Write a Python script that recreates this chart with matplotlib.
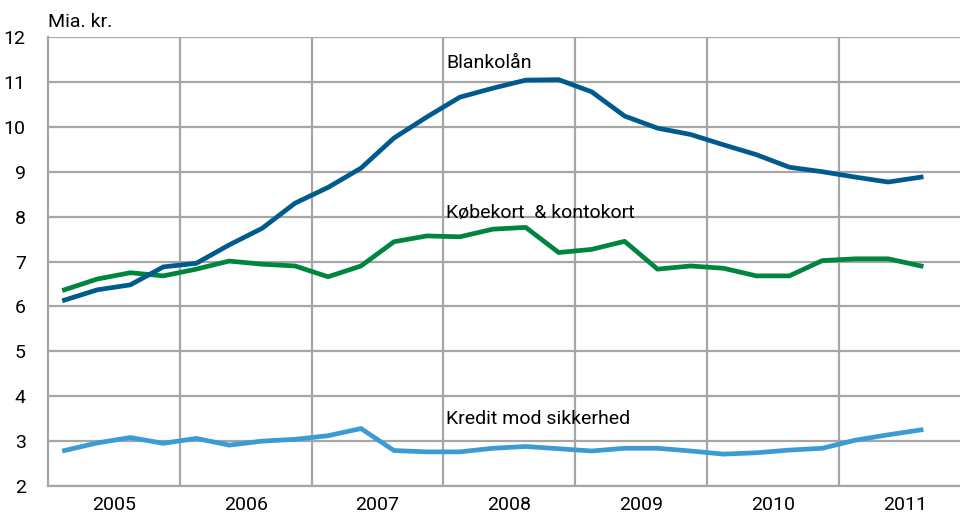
import numpy as np
import matplotlib
matplotlib.use("Agg")
import matplotlib.pyplot as plt

# quarterly data, 2005 Q1 - 2011 Q3 (Mia. kr.)
years = [2005, 2006, 2007, 2008, 2009, 2010, 2011]
blankolaan = [6.14, 6.37, 6.48, 6.88, 6.96, 7.37, 7.74, 8.30, 8.65, 9.08,
              9.75, 10.22, 10.66, 10.86, 11.04, 11.05, 10.78, 10.24, 9.97, 9.83,
              9.60, 9.38, 9.10, 9.00, 8.88, 8.77, 8.88]
koebekort = [6.37, 6.61, 6.75, 6.68, 6.83, 7.01, 6.94, 6.90, 6.66, 6.90,
             7.44, 7.57, 7.55, 7.72, 7.76, 7.20, 7.27, 7.45, 6.83, 6.90,
             6.85, 6.68, 6.68, 7.02, 7.06, 7.06, 6.90]
kredit = [2.79, 2.96, 3.08, 2.95, 3.06, 2.91, 3.00, 3.04, 3.12, 3.28,
          2.79, 2.76, 2.76, 2.84, 2.88, 2.83, 2.78, 2.84, 2.84, 2.78,
          2.71, 2.74, 2.80, 2.84, 3.02, 3.14, 3.25]

x = 2005 + (np.arange(len(blankolaan)) + 0.5) / 4

plt.rcParams['font.family'] = ['Roboto', 'DejaVu Sans']

fig = plt.figure(figsize=(9.6, 5.2), dpi=100)
ax = fig.add_axes([0.05, 0.0654, 0.95, 0.8634])

grid_col = "#a6a6a6"
fs = 14
ax.set_xlim(2005, 2011.92)
ax.set_ylim(2, 12)
ax.set_yticks(range(2, 13))
ax.set_xticks(years[1:])
ax.set_xticklabels([])
ax.set_xticks([y + 0.5 for y in years], minor=True)
ax.set_xticklabels([str(y) for y in years], minor=True, fontsize=fs)
ax.tick_params(axis="both", which="both", length=0)
ax.tick_params(axis="y", labelsize=fs, pad=16)
ax.tick_params(axis="x", which="minor", pad=7)
ax.grid(True, which="major", color=grid_col, linewidth=1.6)
for s in ["top", "right"]:
    ax.spines[s].set_visible(False)
for s in ["left", "bottom"]:
    ax.spines[s].set_color(grid_col)
    ax.spines[s].set_linewidth(1.6)
ax.set_axisbelow(True)

ax.plot(x, kredit, color="#3b9bd3", linewidth=3.4, solid_joinstyle="round")
ax.plot(x, koebekort, color="#00853f", linewidth=3.4, solid_joinstyle="round")
ax.plot(x, blankolaan, color="#005b8c", linewidth=3.4, solid_joinstyle="round")

ax.text(2008.02, 11.42, "Blankolån", fontsize=fs, va="center")
ax.text(2008.02, 8.07, "Købekort  & kontokort", fontsize=fs, va="center")
ax.text(2008.02, 3.5, "Kredit mod sikkerhed", fontsize=fs, va="center")
fig.text(48 / 960, 1 - 22 / 520, "Mia. kr.", fontsize=fs, va="center")

fig.savefig("out.png", dpi=100)
